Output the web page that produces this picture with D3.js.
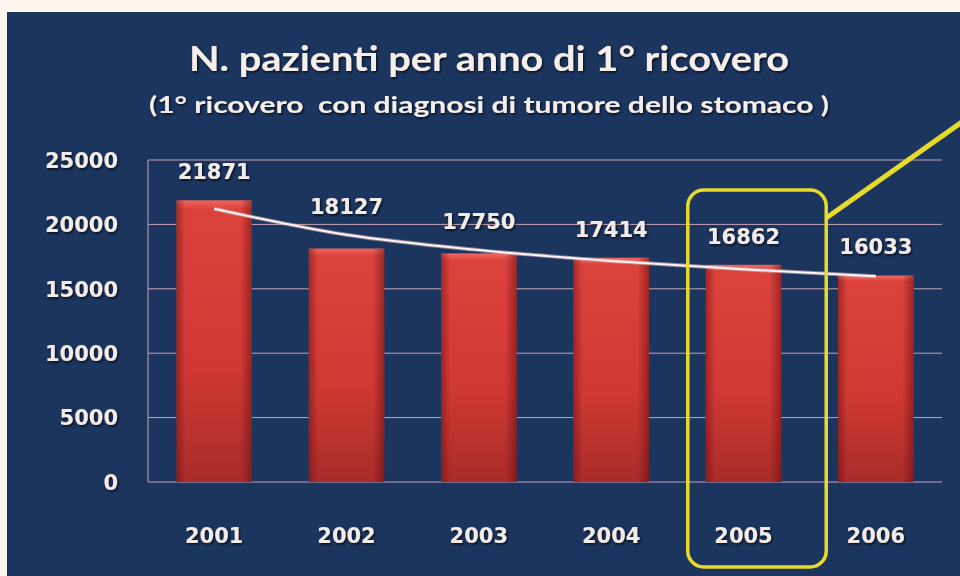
<!DOCTYPE html>
<html><head><meta charset="utf-8">
<script src="https://cdn.jsdelivr.net/npm/d3@7"></script>
<style>
html,body{margin:0;padding:0;background:#fdf6ec;}
svg{display:block;}
</style></head>
<body>
<script>
const years = ["2001","2002","2003","2004","2005","2006"];
const patients = [21871, 18127, 17750, 17414, 16862, 16033];
const yTicks = [0, 5000, 10000, 15000, 20000, 25000];
const titleText = "N. pazienti per anno di 1° ricovero";
const subtitleText = "(1° ricovero  con diagnosi di tumore dello stomaco )";
const highlightYear = "2005";

const W = 960, H = 576;
const svg = d3.select("body").append("svg").attr("width", W).attr("height", H);
const defs = svg.append("defs");

const f = defs.append("filter").attr("id","tshadow").attr("x","-10%").attr("y","-30%").attr("width","120%").attr("height","160%");
f.append("feDropShadow").attr("dx",1.2).attr("dy",1.5).attr("stdDeviation",1).attr("flood-color","#000").attr("flood-opacity",0.75);

const gv = defs.append("linearGradient").attr("id","barV").attr("x1",0).attr("x2",0).attr("y1",0).attr("y2",1);
gv.append("stop").attr("offset","0%").attr("stop-color","#ee6a62");
gv.append("stop").attr("offset","3%").attr("stop-color","#dc423c");
gv.append("stop").attr("offset","60%").attr("stop-color","#cf3833");
gv.append("stop").attr("offset","100%").attr("stop-color","#a92c2a");
const gh = defs.append("linearGradient").attr("id","barH").attr("x1",0).attr("x2",1).attr("y1",0).attr("y2",0);
gh.append("stop").attr("offset","0%").attr("stop-color","#5a0a0a").attr("stop-opacity",0.45);
gh.append("stop").attr("offset","12%").attr("stop-color","#5a0a0a").attr("stop-opacity",0.0);
gh.append("stop").attr("offset","85%").attr("stop-color","#5a0a0a").attr("stop-opacity",0.0);
gh.append("stop").attr("offset","100%").attr("stop-color","#5a0a0a").attr("stop-opacity",0.5);

svg.append("rect").attr("x",0).attr("y",0).attr("width",W).attr("height",H).attr("fill","#fdf6ec");
svg.append("rect").attr("x",7).attr("y",12).attr("width",W-7).attr("height",H-12).attr("fill","#1b355f");

const plot = {left:148, right:942, top:160, bottom:482};
const x = d3.scaleBand().domain(years).range([plot.left, plot.right]).paddingInner(0.43).paddingOuter(0.215);
const y = d3.scaleLinear().domain([0, 25000]).range([plot.bottom, plot.top]);

const gridG = svg.append("g");
gridG.selectAll("line").data(yTicks).join("line")
  .attr("x1",plot.left).attr("x2",plot.right)
  .attr("y1",d=>y(d)).attr("y2",d=>y(d))
  .attr("stroke","#c9a3b6").attr("stroke-width",1);
gridG.append("line").attr("x1",plot.left).attr("x2",plot.left).attr("y1",plot.top).attr("y2",plot.bottom)
  .attr("stroke","#c9a3b6").attr("stroke-width",1);

const yAxis = d3.axisLeft(y).tickValues(yTicks).tickSize(0).tickPadding(0).tickFormat(d3.format("d"));
const yg = svg.append("g").attr("transform",`translate(118,0)`).call(yAxis);
yg.select(".domain").remove();
yg.selectAll("text").attr("fill","#f3ebe8").attr("font-family","DejaVu Sans").attr("font-weight","bold")
  .attr("font-size",21).attr("filter","url(#tshadow)").attr("dy","0.35em");

const xAxis = d3.axisBottom(x).tickSize(0).tickPadding(0);
const xg = svg.append("g").attr("transform",`translate(0,543)`).call(xAxis);
xg.select(".domain").remove();
xg.selectAll("text").attr("fill","#f3ebe8").attr("font-family","DejaVu Sans").attr("font-weight","bold")
  .attr("font-size",21).attr("filter","url(#tshadow)").attr("dy","0");

const bars = svg.append("g");
bars.selectAll("rect.b").data(years).join("rect").attr("class","b")
  .attr("x",d=>x(d)).attr("width",x.bandwidth())
  .attr("y",(d,i)=>y(patients[i])).attr("height",(d,i)=>y(0)-y(patients[i]))
  .attr("fill","url(#barV)");
bars.selectAll("rect.s").data(years).join("rect").attr("class","s")
  .attr("x",d=>x(d)).attr("width",x.bandwidth())
  .attr("y",(d,i)=>y(patients[i])).attr("height",(d,i)=>y(0)-y(patients[i]))
  .attr("fill","url(#barH)");

// logarithmic trendline (least squares on ln(index))
const lx = patients.map((v,i)=>Math.log(i+1));
const mx = d3.mean(lx), my = d3.mean(patients);
const b = d3.sum(lx.map((l,i)=>(l-mx)*(patients[i]-my))) / d3.sum(lx.map(l=>(l-mx)*(l-mx)));
const a = my - b*mx;
const trend = years.map((yr,i)=>({yr, v: a + b*Math.log(i+1)}));
const cx = d => x(d) + x.bandwidth()/2;
const line = d3.line().x(d=>cx(d.yr)).y(d=>y(d.v)).curve(d3.curveMonotoneX);
svg.append("path").datum(trend).attr("d",line).attr("fill","none")
  .attr("stroke","#d9b0b8").attr("stroke-width",4).attr("opacity",0.6);
svg.append("path").datum(trend).attr("d",line).attr("fill","none")
  .attr("stroke","#fbf4f2").attr("stroke-width",2);

svg.append("g").selectAll("text").data(years).join("text")
  .attr("x",d=>cx(d))
  .attr("y",(d,i)=>Math.min(y(patients[i]), y(trend[i].v)) - 21)
  .attr("text-anchor","middle")
  .attr("fill","#f3ebe8").attr("font-family","DejaVu Sans").attr("font-weight","bold")
  .attr("font-size",21).attr("filter","url(#tshadow)")
  .text((d,i)=>patients[i]);

svg.append("text").attr("x",489).attr("y",71).attr("text-anchor","middle")
  .attr("fill","#f6eeea").attr("font-family","Lato").attr("font-weight","bold")
  .attr("font-size",35).attr("textLength",600).attr("lengthAdjust","spacingAndGlyphs")
  .attr("filter","url(#tshadow)").text(titleText);
svg.append("text").attr("x",489).attr("y",113).attr("text-anchor","middle")
  .style("white-space","pre")
  .attr("fill","#f6eeea").attr("font-family","Lato").attr("font-weight","bold")
  .attr("font-size",22).attr("textLength",680).attr("lengthAdjust","spacingAndGlyphs")
  .attr("filter","url(#tshadow)").text(subtitleText);

const hx = x(highlightYear);
const bx0 = hx - 18, bx1 = hx + x.bandwidth() + 45;
svg.append("rect").attr("x",bx0).attr("y",190).attr("width",bx1-bx0).attr("height",377)
  .attr("rx",16).attr("ry",16).attr("fill","none").attr("stroke","#e6da2a").attr("stroke-width",3.5);
svg.append("line").attr("x1",bx1).attr("y1",218).attr("x2",962).attr("y2",122)
  .attr("stroke","#e6da2a").attr("stroke-width",5);
</script>
</body></html>
